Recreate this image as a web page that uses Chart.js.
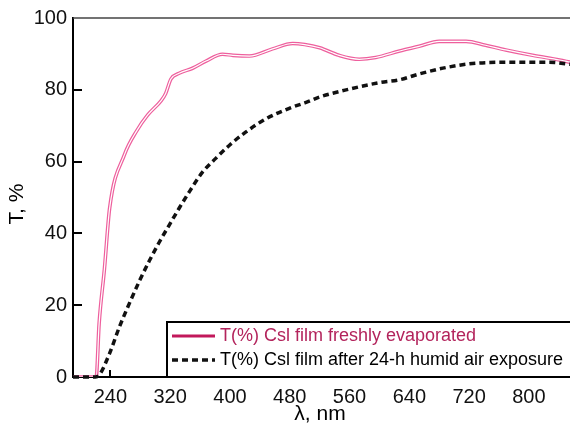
<!DOCTYPE html>
<html>
<head>
<meta charset="utf-8">
<script src="https://cdn.jsdelivr.net/npm/chart.js@4"></script>
<style>
  body { margin: 0; background: #fff; }
</style>
</head>
<body>
<canvas id="myChart" width="570" height="432"></canvas>
<script>
// wavelength (nm) / transmission (%)
const freshNm = [190, 221, 225, 232, 239, 259, 275, 290, 308, 314, 321, 332, 350, 368, 390, 404, 426, 457, 484, 500, 520, 546, 573, 595, 627, 653, 680, 716, 742, 769, 805, 841, 855];
const freshT  = [0, 0, 15, 30, 47, 62, 68.5, 73, 77, 79, 83, 84.6, 86, 88, 89.9, 89.6, 89.4, 91.4, 92.9, 92.6, 91.7, 89.6, 88.5, 89, 90.8, 92.1, 93.5, 93.5, 92.4, 91.1, 89.6, 88.3, 87.7];
const humidNm = [190, 220, 225, 239, 252, 265, 279, 292, 305, 319, 332, 346, 363, 381, 399, 421, 448, 480, 502, 520, 560, 600, 627, 653, 689, 729, 783, 827, 855];
const humidT  = [0, 0, 0.5, 6.6, 13.9, 20.3, 26.8, 32.3, 37.4, 42.4, 47, 51.7, 57, 60.9, 64.5, 68.2, 71.9, 74.9, 76.5, 78, 80.2, 82, 82.8, 84.4, 86.2, 87.4, 87.7, 87.7, 87.1];
const xTicks = [240, 320, 400, 480, 560, 640, 720, 800];
const yTicks = [0, 20, 40, 60, 80, 100];
const seriesNames = ['T(%) Csl film freshly evaporated', 'T(%) Csl film after 24-h humid air exposure'];

function toPoints(xs, ys) {
    return xs.map((x, i) => ({x: x, y: ys[i]}));
}

const FONT = '"Liberation Sans", Arial, sans-serif';

const extras = {
    id: 'extras',
    afterDraw(chart) {
        const ctx = chart.ctx;
        const a = chart.chartArea;
        const xs = chart.scales.x, ys = chart.scales.y;
        ctx.save();
        // top frame line
        ctx.strokeStyle = '#444';
        ctx.lineWidth = 1.5;
        ctx.beginPath();
        ctx.moveTo(a.left, a.top);
        ctx.lineTo(a.right, a.top);
        ctx.stroke();
        // inner tick marks
        ctx.strokeStyle = '#000';
        ctx.lineWidth = 2;
        ctx.beginPath();
        xTicks.forEach(v => {
            const px = Math.round(xs.getPixelForValue(v));
            ctx.moveTo(px, a.bottom);
            ctx.lineTo(px, a.bottom - 7);
        });
        yTicks.forEach(v => {
            if (v === 0 || v === 100) return;
            const py = Math.round(ys.getPixelForValue(v));
            ctx.moveTo(a.left, py);
            ctx.lineTo(a.left + 9, py);
        });
        ctx.stroke();

        // legend box
        const lx = 167, ly = 322;
        ctx.fillStyle = '#fff';
        ctx.fillRect(lx, ly, a.right - lx, a.bottom - ly - 1);
        ctx.strokeStyle = '#000';
        ctx.lineWidth = 2;
        ctx.beginPath();
        ctx.moveTo(lx, a.bottom);
        ctx.lineTo(lx, ly);
        ctx.lineTo(a.right, ly);
        ctx.stroke();
        // legend row 1
        ctx.strokeStyle = '#c2185b';
        ctx.lineWidth = 3;
        ctx.beginPath();
        ctx.moveTo(172, 336);
        ctx.lineTo(215, 336);
        ctx.stroke();
        ctx.font = '18px ' + FONT;
        ctx.textBaseline = 'middle';
        ctx.textAlign = 'left';
        ctx.fillStyle = '#b3245c';
        ctx.fillText(seriesNames[0], 220, 336);
        // legend row 2
        ctx.strokeStyle = '#111';
        ctx.lineWidth = 3.5;
        ctx.setLineDash([6, 4]);
        ctx.beginPath();
        ctx.moveTo(172, 360);
        ctx.lineTo(215, 360);
        ctx.stroke();
        ctx.setLineDash([]);
        ctx.fillStyle = '#000';
        ctx.fillText(seriesNames[1], 220, 360);

        // axis titles
        ctx.font = '21px ' + FONT;
        ctx.textAlign = 'center';
        ctx.fillText('λ, nm', 320, 414);
        ctx.translate(17, 204);
        ctx.rotate(-Math.PI / 2);
        ctx.fillText('T, %', 0, 0);
        ctx.restore();
    }
};

let myChart = document.getElementById('myChart').getContext('2d');
let transChart = new Chart(myChart, {
    type: 'line',
    data: {
        datasets: [{
            label: seriesNames[0],
            data: toPoints(freshNm, freshT),
            borderColor: '#ee5f9d',
            borderWidth: 3.6,
            pointRadius: 0,
            cubicInterpolationMode: 'monotone',
            order: 2
        }, {
            label: 'inner',
            data: toPoints(freshNm, freshT),
            borderColor: '#ffffff',
            borderWidth: 1.2,
            pointRadius: 0,
            cubicInterpolationMode: 'monotone',
            order: 1
        }, {
            label: seriesNames[1],
            data: toPoints(humidNm, humidT),
            borderColor: '#111',
            borderWidth: 3.5,
            borderDash: [6, 4],
            pointRadius: 0,
            cubicInterpolationMode: 'monotone',
            clip: false,
            order: 0
        }]
    },
    options: {
        responsive: false,
        animation: false,
        layout: { padding: { top: 15, right: 0, bottom: 0, left: 0 } },
        plugins: { legend: { display: false }, tooltip: { enabled: false } },
        scales: {
            x: {
                type: 'linear',
                min: 190,
                max: 855,
                afterBuildTicks: s => { s.ticks = xTicks.map(v => ({value: v})); },
                afterFit: s => { s.height = 55; },
                grid: { display: false, drawTicks: false },
                border: { display: true, color: '#000', width: 2 },
                ticks: { padding: 8, color: '#111', font: { family: FONT, size: 20 }, maxRotation: 0 }
            },
            y: {
                min: 0,
                max: 100,
                afterBuildTicks: s => { s.ticks = yTicks.map(v => ({value: v})); },
                afterFit: s => { s.width = 73; },
                grid: { display: false, drawTicks: false },
                border: { display: true, color: '#000', width: 2 },
                ticks: { padding: 6, color: '#111', font: { family: FONT, size: 20 } }
            }
        }
    },
    plugins: [extras]
});
</script>
</body>
</html>
